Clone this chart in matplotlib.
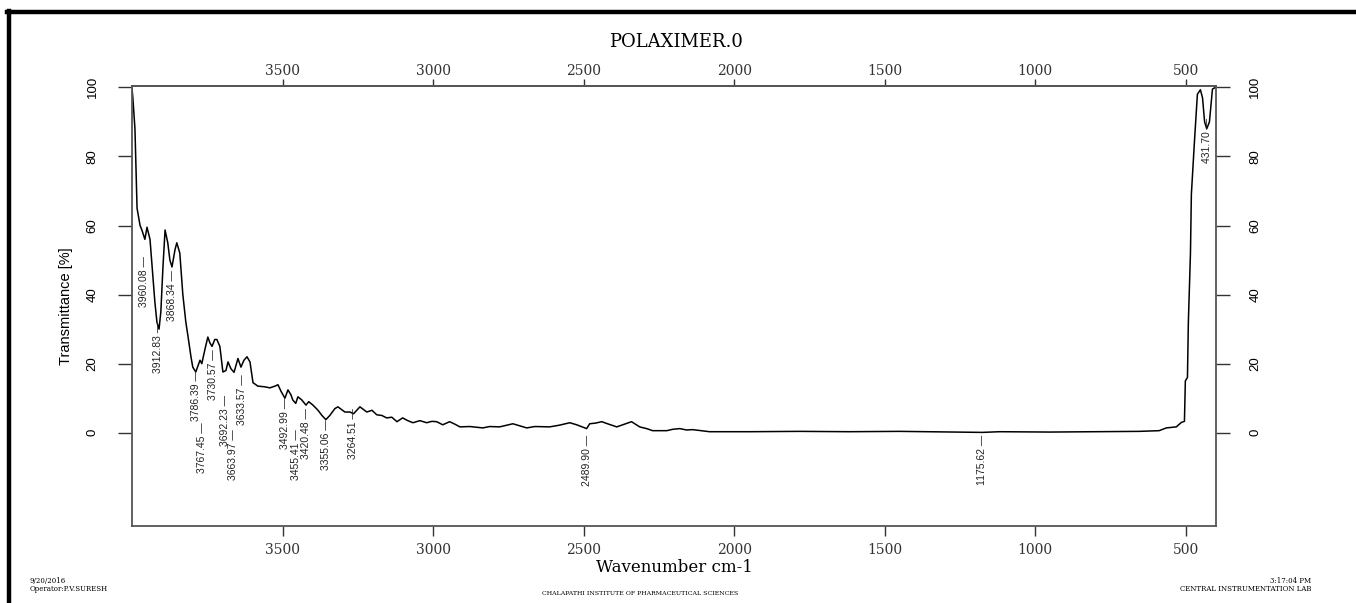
"""
FT-IR spectrum of POLAXIMER.0 (transmittance vs wavenumber)
"""

import matplotlib.pyplot as plt
from matplotlib.lines import Line2D

# spectrum
wavenumber = [4000, 3997, 3990, 3983, 3973, 3967, 3957, 3950, 3940, 3930, 3924, 3917, 3910, 3904,
              3897, 3890, 3881, 3874, 3867, 3857, 3851, 3841, 3831, 3821, 3814, 3804, 3798, 3788,
              3778, 3774, 3768, 3758, 3748, 3741, 3734, 3725, 3718, 3708, 3698, 3688, 3681, 3671,
              3661, 3648, 3638, 3628, 3618, 3608, 3598, 3582, 3559, 3542, 3525, 3515, 3505, 3492,
              3482, 3472, 3466, 3456, 3449, 3436, 3422, 3413, 3399, 3383, 3369, 3356, 3343, 3326,
              3316, 3293, 3276, 3264, 3243, 3220, 3203, 3187, 3170, 3154, 3137, 3120, 3101, 3084,
              3067, 3044, 3021, 3004, 2988, 2968, 2945, 2928, 2911, 2878, 2835, 2812, 2779, 2755,
              2735, 2712, 2689, 2662, 2613, 2580, 2546, 2523, 2490, 2480, 2460, 2440, 2414, 2390,
              2364, 2341, 2314, 2291, 2271, 2224, 2204, 2181, 2158, 2138, 2082, 1949, 1783, 1617,
              1451, 1285, 1176, 1119, 953, 787, 655, 589, 565, 532, 515, 505, 502, 495, 492, 485,
              482, 472, 462, 452, 445, 438, 431, 422, 412, 402, 400]
transmittance = [100, 97, 88, 65, 60, 58.7, 56, 59.5, 56, 45, 38, 32, 30, 35,
                 48, 58.7, 55, 50, 48, 53, 55, 52, 40, 32, 28, 22, 19, 17.6,
                 20, 21, 20, 24, 27.7, 26, 25, 27, 27, 25, 17.6, 18, 20.5, 18.5,
                 17.5, 21.5, 19, 21, 22, 20.5, 14.5, 13.5, 13.3, 13, 13.5, 13.9, 12, 10,
                 12.4, 11, 9.5, 8.5, 10.4, 9.5, 8, 9, 8, 6.6, 5, 3.8, 5, 7,
                 7.5, 6, 6, 5.5, 7.5, 6, 6.5, 5.2, 5, 4.3, 4.5, 3.2, 4.3, 3.5,
                 2.9, 3.5, 2.9, 3.3, 3.2, 2.3, 3.2, 2.5, 1.7, 1.8, 1.4, 1.8, 1.7, 2.2,
                 2.6, 2.0, 1.4, 1.8, 1.7, 2.2, 2.9, 2.3, 1.2, 2.6, 2.8, 3.2, 2.4, 1.7,
                 2.5, 3.2, 1.7, 1.2, 0.6, 0.6, 1.0, 1.2, 0.8, 0.9, 0.3, 0.3, 0.4, 0.3,
                 0.4, 0.2, 0.1, 0.3, 0.2, 0.3, 0.4, 0.6, 1.4, 1.7, 3.0, 3.3, 15, 16, 32, 52,
                 69, 84, 98, 99.3, 97, 90, 88, 90, 99.5, 100, 100]

# peak picks: position and where the label starts (top, in %T)
peak_pos = [3960.08, 3912.83, 3868.34, 3786.39, 3767.45, 3730.57, 3692.23, 3663.97,
            3633.57, 3492.99, 3455.41, 3420.48, 3355.06, 3264.51, 2489.90, 1175.62, 431.70]
peak_top = [51, 32, 47, 18, 3, 24, 11, 1, 17, 10, 1, 7, 4, 7, -0.5, -0.5, 91]

x_ticks = [3500, 3000, 2500, 2000, 1500, 1000, 500]
y_ticks = [0, 20, 40, 60, 80, 100]

narrow = ["Liberation Sans", "DejaVu Sans"]

fig = plt.figure(figsize=(13.56, 6.03), dpi=100)
ax = fig.add_axes([0.0973, 0.1277, 0.7995, 0.7297])

ax.plot(wavenumber, transmittance, color="black", lw=1.1)
ax.set_xlim(4000, 400)
ax.set_ylim(-27, 100.4)

for pos, top in zip(peak_pos, peak_top):
    ax.text(pos, top, "%.2f \u2014" % pos, rotation=90, ha="center", va="top",
            fontsize=7.5, family=narrow, color="#222222")

# bottom / left / right ticks
ax.set_xticks(x_ticks)
ax.set_yticks(y_ticks)
ax.tick_params(axis="x", direction="out", length=7, width=1, colors="#333333",
               pad=5, labelsize=10)
ax.tick_params(axis="y", which="both", right=True, labelright=True, direction="out",
               length=10, width=1, colors="#333333", pad=14, labelsize=9.5)
for lab in ax.get_xticklabels():
    lab.set_family("DejaVu Serif")
for lab in ax.get_yticklabels():
    lab.set_rotation(90)
    lab.set_va("center")
    lab.set_family(narrow)
    lab.set_color("black")

# top axis, same scale
top_ax = ax.secondary_xaxis("top")
top_ax.set_xticks(x_ticks)
top_ax.tick_params(direction="out", length=5, width=1, colors="#333333", pad=1, labelsize=10)
for lab in top_ax.get_xticklabels():
    lab.set_family("DejaVu Serif")

for sp in list(ax.spines.values()) + list(top_ax.spines.values()):
    sp.set_color("#555555")
    sp.set_linewidth(1.3)

ax.set_ylabel("Transmittance [%]", fontsize=10.5, family=narrow, labelpad=10)
ax.set_xlabel("Wavenumber cm-1", fontsize=12, family="DejaVu Serif", labelpad=2)
fig.text(0.4985, 0.930, "POLAXIMER.0", fontsize=13, family="DejaVu Serif",
         ha="center", va="center")

# printout footer
fig.text(0.022, 0.016, "9/20/2016\nOperator:P.V.SURESH", fontsize=5, family="DejaVu Serif",
         ha="left", va="bottom", linespacing=1.0)
fig.text(0.472, 0.012, "CHALAPATHI INSTITUTE OF PHARMACEUTICAL SCIENCES", fontsize=4.5,
         family="DejaVu Serif", ha="center", va="bottom")
fig.text(0.967, 0.016, "3:17:04 PM\nCENTRAL INSTRUMENTATION LAB", fontsize=5,
         family="DejaVu Serif", ha="right", va="bottom", linespacing=1.0, multialignment="right")

# thick black frame along the top and left edge of the scan
fig.add_artist(Line2D([0.0055, 1.0], [0.980, 0.980], color="black", lw=3.2))
fig.add_artist(Line2D([0.0066, 0.0066], [0.982, 0.0], color="black", lw=3.2))

fig.savefig("out.png", dpi=100)
